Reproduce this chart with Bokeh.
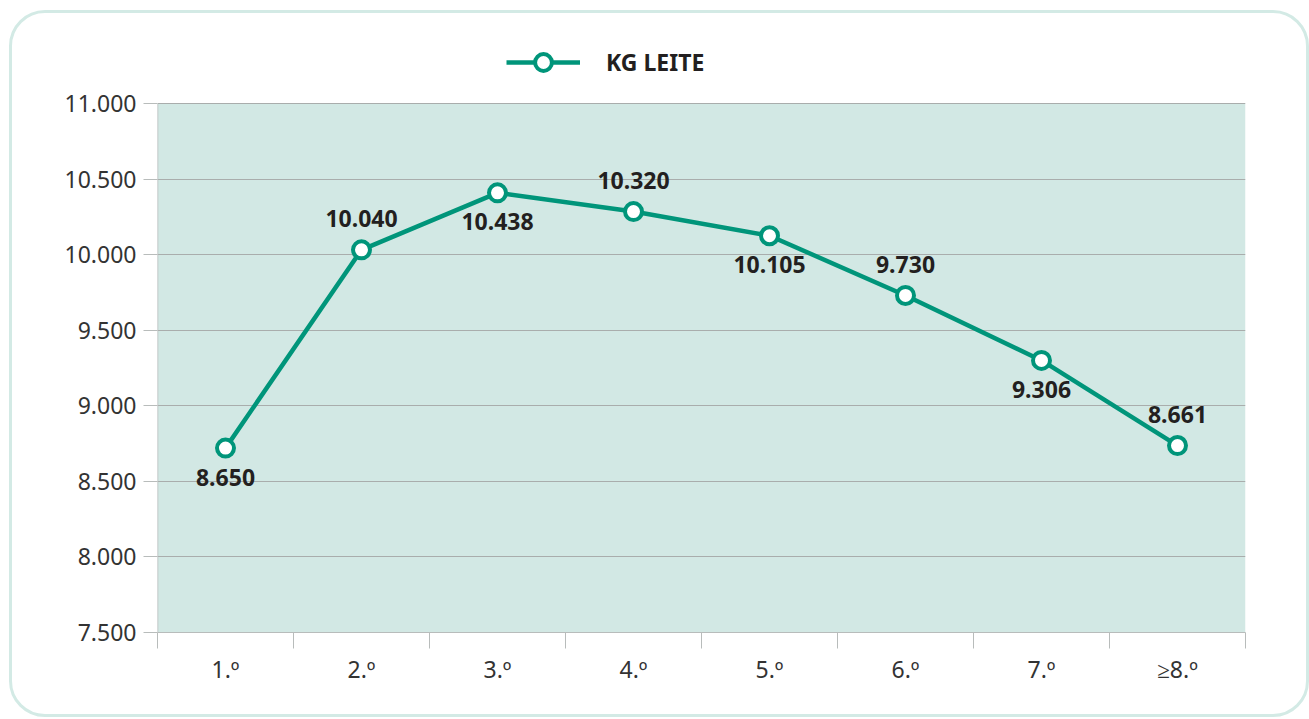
from bokeh.plotting import figure
from bokeh.models import FixedTicker, Legend, LegendItem, ColumnDataSource, Range1d
from bokeh.core.properties import value
from bokeh.embed import file_html
from bokeh.resources import INLINE

# ---- data ----
categories = ["1.º", "2.º", "3.º", "4.º", "5.º", "6.º", "7.º", "≥8.º"]
kg_leite = [8720, 10032, 10409, 10285, 10125, 9730, 9300, 8737]
value_labels = ["8.650", "10.040", "10.438", "10.320", "10.105", "9.730", "9.306", "8.661"]
label_side = ["below", "above", "below", "above", "below", "above", "below", "above"]
y_ticks = [7500, 8000, 8500, 9000, 9500, 10000, 10500, 11000]
y_tick_labels = ["7.500", "8.000", "8.500", "9.000", "9.500", "10.000", "10.500", "11.000"]
series_name = "KG LEITE"

# ---- style ----
TEAL = "#00957a"
PLOT_BG = "#d2e8e4"
GRID = "#a9adac"
AXIS = "#b8bcbb"
TXT = "#231f20"
FONT = "Noto Sans"

n = len(categories)
x_centers = [i + 0.5 for i in range(n)]
boundaries = list(range(n + 1))

# plot area is 529 px tall for the tick span; extend the frame upward
# by 73 px so that the legend can sit inside it
area_px = 529
top_pad_px = 73
y_lo, y_hi = y_ticks[0], y_ticks[-1]
y_end = y_hi + (y_hi - y_lo) * top_pad_px / area_px

p = figure(width=1300, height=707, output_backend="svg", toolbar_location=None,
           x_range=Range1d(0, n), y_range=Range1d(y_lo, y_end),
           min_border_left=145, min_border_right=67, min_border_top=17, min_border_bottom=88)
p.background_fill_alpha = 0
p.border_fill_alpha = 0
p.outline_line_color = None
p.styles = {"border": "3px solid #d3eae5", "border-radius": "36px",
            "background-color": "white", "overflow": "hidden",
            "margin-left": "9px", "margin-top": "10px"}

# plot-area fill (below the grid)
p.quad(left=[0], right=[n], bottom=[y_lo], top=[y_hi], fill_color=PLOT_BG,
       line_color=None, level="image")
# left edge line of the plot area
p.segment(x0=[0], y0=[y_lo], x1=[0], y1=[y_hi], line_color=AXIS, line_width=1.5)

# y axis
p.yaxis.ticker = FixedTicker(ticks=y_ticks)
p.yaxis.major_label_overrides = dict(zip(y_ticks, y_tick_labels))
p.yaxis.major_tick_out = 14
p.yaxis.major_tick_in = 0
p.yaxis.minor_tick_out = 0
p.yaxis.minor_tick_in = 0
p.yaxis.major_tick_line_color = AXIS
p.yaxis.axis_line_color = None
p.yaxis.major_label_standoff = 7
p.yaxis.major_label_text_font = FONT
p.yaxis.major_label_text_font_size = "23px"
p.yaxis.major_label_text_color = "#333333"

# x axis
p.xaxis.ticker = FixedTicker(ticks=x_centers, minor_ticks=boundaries)
p.xaxis.major_label_overrides = dict(zip(x_centers, categories))
p.xaxis.major_tick_out = 0
p.xaxis.major_tick_in = 0
p.xaxis.minor_tick_out = 16
p.xaxis.minor_tick_in = 0
p.xaxis.minor_tick_line_color = AXIS
p.xaxis.axis_line_color = AXIS
p.xaxis.major_label_standoff = 4
p.xaxis.major_label_text_font = FONT
p.xaxis.major_label_text_font_size = "23px"
p.xaxis.major_label_text_color = "#333333"

# grid
p.xgrid.grid_line_color = None
p.ygrid.ticker = FixedTicker(ticks=y_ticks)
p.ygrid.grid_line_color = GRID
p.ygrid.grid_line_width = 1

src = ColumnDataSource(dict(
    x=x_centers, y=kg_leite, lab=value_labels,
    off=[29 if s == "below" else -31 for s in label_side],
))

line_r = p.line("x", "y", source=src, line_color=TEAL, line_width=4.5)
pts_r = p.scatter("x", "y", source=src, size=17, fill_color="white",
                  line_color=TEAL, line_width=4)
p.text("x", "y", text="lab", source=src, y_offset="off", text_align="center",
       text_baseline="middle", text_font=value(FONT), text_font_style="bold",
       text_font_size="23px", text_color=TXT)

legend = Legend(items=[LegendItem(label=series_name, renderers=[line_r, pts_r])],
                location=(349, 549), orientation="horizontal",
                glyph_width=74, glyph_height=42, label_standoff=26,
                label_text_font=FONT, label_text_font_style="bold",
                label_text_font_size="23px", label_text_color=TXT,
                border_line_color=None, background_fill_alpha=0,
                padding=0, margin=0)
p.add_layout(legend, "center")

html = file_html(p, INLINE)
html = html.replace("<body>", '<body style="background-color:#edf6f4; margin:0; overflow:hidden;">', 1)
open("out.html", "w").write(html)
